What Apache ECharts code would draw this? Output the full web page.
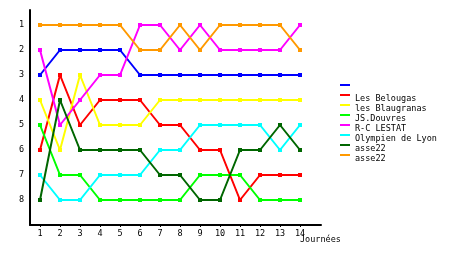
<!DOCTYPE html>
<html>
<head>
<meta charset="utf-8">
<script src="https://cdn.jsdelivr.net/npm/echarts@6/dist/echarts.min.js"></script>
<style>html,body{margin:0;padding:0;background:#fff}#c{width:460px;height:255px}</style>
</head>
<body>
<div id="c"></div>
<script>
var journees = [1,2,3,4,5,6,7,8,9,10,11,12,13,14];
var rankTicks = [1,2,3,4,5,6,7,8];
var teamNames = [' ', 'Les Belougas', 'les Blaugranas', 'JS.Douvres', 'R-C LESTAT', 'Olympien de Lyon', 'asse22', 'asse22 '];
var teamColors = ['#0000ff', '#ff0000', '#ffff00', '#00ff00', '#ff00ff', '#00ffff', '#006600', '#ff9900'];
var rankBlue     = [3,2,2,2,2,3,3,3,3,3,3,3,3,3];
var rankBelougas = [6,3,5,4,4,4,5,5,6,6,8,7,7,7];
var rankBlaugranas = [4,6,3,5,5,5,4,4,4,4,4,4,4,4];
var rankDouvres  = [5,7,7,8,8,8,8,8,7,7,7,8,8,8];
var rankLestat   = [2,5,4,3,3,1,1,2,1,2,2,2,2,1];
var rankLyon     = [7,8,8,7,7,7,6,6,5,5,5,5,6,5];
var rankAsse22a  = [8,4,6,6,6,6,7,7,8,8,6,6,5,6];
var rankAsse22b  = [1,1,1,1,1,2,2,1,2,1,1,1,1,2];
var allRanks = [rankBlue, rankBelougas, rankBlaugranas, rankDouvres, rankLestat, rankLyon, rankAsse22a, rankAsse22b];

var font = 'DejaVu Sans Mono';
var series = allRanks.map(function(r, i){
  return {
    name: teamNames[i], type: 'line',
    data: r.map(function(v, k){ return [journees[k], v]; }),
    symbol: 'rect', symbolSize: 4, showSymbol: true,
    lineStyle: {width: 2, color: teamColors[i]},
    itemStyle: {color: teamColors[i]},
    emphasis: {disabled: true},
    animation: false
  };
});

var chart = echarts.init(document.getElementById('c'), null, {renderer: 'canvas'});
chart.setOption({
  animation: false,
  backgroundColor: '#fff',
  grid: {left: 30, top: 10, width: 291, height: 215, containLabel: false},
  xAxis: {
    type: 'value', min: 0.5, max: 15.05,
    axisLine: {lineStyle: {color: '#000', width: 2}},
    axisTick: {show: true, length: 2, inside: false, customValues: journees, lineStyle: {color: '#000'}},
    axisLabel: {customValues: journees, margin: 4, color: '#000', fontFamily: font, fontSize: 8.5},
    splitLine: {show: false}
  },
  yAxis: {
    type: 'value', inverse: true, min: 0.4, max: 9,
    axisLine: {show: true, lineStyle: {color: '#000', width: 2}},
    axisTick: {show: false},
    axisLabel: {customValues: rankTicks, margin: 6, color: '#000', fontFamily: font, fontSize: 8.5},
    splitLine: {show: false}
  },
  legend: {
    orient: 'vertical', left: 340, top: 84, padding: 0,
    itemWidth: 10, itemHeight: 10, itemGap: 0,
    icon: 'path://M0,0h10v2h-10z M0,9.98h0.02v0.02h-0.02z',
    itemStyle: {borderWidth: 0},
    formatter: function(n){ return n.trim(); },
    textStyle: {fontFamily: font, fontSize: 8.5, lineHeight: 10, color: '#000'},
    data: teamNames
  },
  graphic: [{
    type: 'text', left: 300, top: 235,
    style: {text: 'Journées', font: '8.5px "DejaVu Sans Mono"', fill: '#000'}
  }],
  series: series
});
</script>
</body>
</html>
